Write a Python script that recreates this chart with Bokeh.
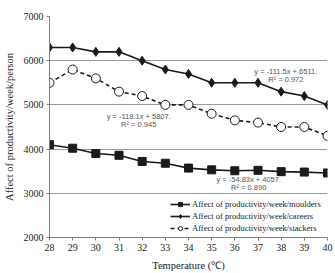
from bokeh.plotting import figure
from bokeh.models import Range1d, Label, Legend, LegendItem, FixedTicker
from bokeh.embed import file_html
from bokeh.resources import INLINE

temperature = [28, 29, 30, 31, 32, 33, 34, 35, 36, 37, 38, 39, 40]
moulders = [4100, 4020, 3900, 3860, 3720, 3680, 3570, 3530, 3510, 3520, 3490, 3480, 3460]
careers = [6300, 6300, 6200, 6200, 6000, 5800, 5700, 5500, 5500, 5500, 5300, 5200, 5000]
stackers = [5500, 5800, 5600, 5300, 5200, 5000, 5000, 4800, 4650, 4600, 4500, 4500, 4300]
legend_labels = ["Affect of productivity/week/moulders",
                 "Affect of productivity/week/careers",
                 "Affect of productivity/week/stackers"]
trend_texts = [("y = -111.5x + 6511.", "R\u00b2 = 0.972"),
               ("y = -118.1x + 5807.", "R\u00b2 = 0.945"),
               ("y = -54.83x + 4057.", "R\u00b2 = 0.890")]
y_ticks = [2000, 3000, 4000, 5000, 6000, 7000]

SERIF = "Liberation Serif"

p = figure(width=335, height=273, output_backend="svg", toolbar_location=None,
           x_range=Range1d(28, 40), y_range=Range1d(2000, 7000),
           min_border_left=49, min_border_right=8, min_border_top=16, min_border_bottom=32)
p.outline_line_color = None
p.background_fill_color = "white"
p.xgrid.grid_line_color = None
p.ygrid.grid_line_color = "#9a9a9a"
p.ygrid.grid_line_width = 1

p.xaxis.ticker = FixedTicker(ticks=temperature)
p.yaxis.ticker = FixedTicker(ticks=y_ticks)
for ax in (p.xaxis[0], p.yaxis[0]):
    ax.axis_line_color = "#808080"
    ax.major_tick_line_color = "#808080"
    ax.minor_tick_line_color = None
    ax.major_tick_out = 3
    ax.major_tick_in = 0
    ax.major_label_text_font = SERIF
    ax.major_label_text_font_size = "10px"
    ax.major_label_text_color = "#222222"
    ax.axis_label_text_font = SERIF
    ax.axis_label_text_font_size = "10.5px"
    ax.axis_label_text_font_style = "normal"
    ax.axis_label_text_color = "#222222"
p.xaxis.axis_label = "Temperature (\u2103)"
p.yaxis.axis_label = "Affect of productivity/week/person"
p.yaxis.major_label_standoff = 3
p.xaxis.major_label_standoff = 3
p.yaxis.axis_label_standoff = 6
p.xaxis.axis_label_standoff = 6

l1 = p.line(temperature, moulders, line_color="#1a1a1a", line_width=1.6)
s1 = p.scatter(temperature, moulders, marker="square", size=8, fill_color="#1a1a1a", line_color="#1a1a1a")
l2 = p.line(temperature, careers, line_color="#1a1a1a", line_width=1.6)
s2 = p.scatter(temperature, careers, marker="diamond", size=9, fill_color="#1a1a1a", line_color="#1a1a1a")
l3 = p.line(temperature, stackers, line_color="#1a1a1a", line_width=1.6, line_dash="4 3")
s3 = p.scatter(temperature, stackers, marker="circle", size=9, fill_color="white", line_color="#1a1a1a", line_width=1)

legend = Legend(items=[LegendItem(label=legend_labels[0], renderers=[l1, s1]),
                       LegendItem(label=legend_labels[1], renderers=[l2, s2]),
                       LegendItem(label=legend_labels[2], renderers=[l3, s3])],
                location=(121, 4))
legend.label_text_font = SERIF
legend.label_text_font_size = "8.5px"
legend.label_text_color = "#222222"
legend.glyph_width = 20
legend.glyph_height = 10
legend.label_height = 10
legend.spacing = 2
legend.padding = 3
legend.margin = 0
legend.label_standoff = 2
legend.border_line_color = None
legend.background_fill_color = "white"
legend.background_fill_alpha = 1
p.add_layout(legend)

anno_pos = [(38.2, 5760, 5580), (31.85, 4735, 4555), (36.6, 3310, 3125)]
for (t1, t2), (ax_, ay1, ay2) in zip(trend_texts, anno_pos):
    for t, yy in ((t1, ay1), (t2, ay2)):
        p.add_layout(Label(x=ax_, y=yy, text=t, text_align="center", text_baseline="middle",
                           text_font="Liberation Sans", text_font_size="7.5px", text_color="#555555"))

open("out.html", "w").write(file_html(p, INLINE))
